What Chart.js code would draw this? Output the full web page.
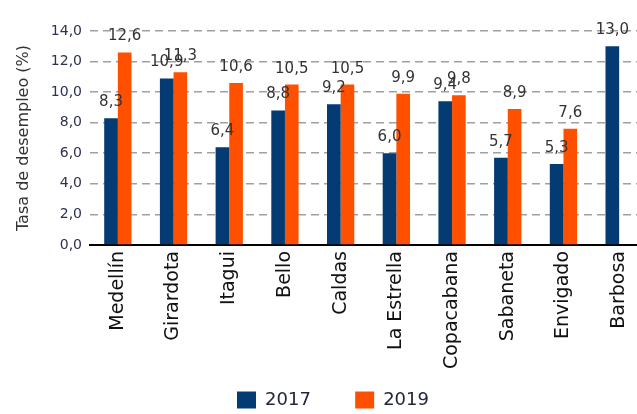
<!DOCTYPE html>
<html>
<head>
<meta charset="utf-8">
<script src="https://cdn.jsdelivr.net/npm/chart.js@4.4.0/dist/chart.umd.min.js"></script>
<style>
  html, body { margin: 0; padding: 0; background: #ffffff; overflow: hidden; }
  #wrap { width: 660px; height: 420px; }
</style>
</head>
<body>
<div id="wrap"><canvas id="c" width="660" height="420"></canvas></div>
<script>
const categories = ["Medellín", "Girardota", "Itagui", "Bello", "Caldas", "La Estrella", "Copacabana", "Sabaneta", "Envigado", "Barbosa"];
const values2017 = [8.3, 10.9, 6.4, 8.8, 9.2, 6.0, 9.4, 5.7, 5.3, 13.0];
const values2019 = [12.6, 11.3, 10.6, 10.5, 10.5, 9.9, 9.8, 8.9, 7.6, null];
const seriesNames = ["2017", "2019"];
const yTicks = [0, 2, 4, 6, 8, 10, 12, 14];
const yTitle = "Tasa de desempleo (%)";

const fmt = v => v.toFixed(1).replace('.', ',');

const valueLabels = {
  id: 'valueLabels',
  afterDatasetsDraw(chart) {
    const ctx = chart.ctx;
    ctx.save();
    ctx.font = '15px "DejaVu Sans"';
    ctx.fillStyle = '#333333';
    ctx.textAlign = 'center';
    ctx.textBaseline = 'alphabetic';
    chart.data.datasets.forEach((ds, di) => {
      const meta = chart.getDatasetMeta(di);
      meta.data.forEach((bar, i) => {
        const v = ds.data[i];
        if (v === null || v === undefined) return;
        ctx.fillText(fmt(v), bar.x, bar.y - 12);
      });
    });
    ctx.restore();
  }
};

// spacing between legend entries (non-breaking spaces after the first entry)
const legendGap = '\u00A0\u00A0\u00A0\u00A0\u00A0\u00A0';

new Chart(document.getElementById('c'), {
  type: 'bar',
  data: {
    labels: categories,
    datasets: [
      { label: seriesNames[0], data: values2017, backgroundColor: '#033b72', borderWidth: 0,
        categoryPercentage: 0.49, barPercentage: 1.0 },
      { label: seriesNames[1], data: values2019, backgroundColor: '#ff5000', borderWidth: 0,
        categoryPercentage: 0.49, barPercentage: 1.0 }
    ]
  },
  options: {
    responsive: false,
    animation: false,
    devicePixelRatio: 1,
    layout: { padding: { left: 19, right: 13, top: 31, bottom: 1 } },
    plugins: {
      legend: {
        position: 'bottom',
        labels: {
          boxWidth: 19, boxHeight: 17, padding: 10,
          color: '#22263a',
          font: { family: '"DejaVu Sans"', size: 18 },
          generateLabels(chart) {
            const items = Chart.defaults.plugins.legend.labels.generateLabels(chart);
            items.forEach((it, i) => { if (i < items.length - 1) it.text = it.text + legendGap; });
            return items;
          }
        }
      },
      tooltip: { enabled: false }
    },
    scales: {
      x: {
        grid: { display: false, drawTicks: false },
        border: { display: true, color: '#000000', width: 2 },
        ticks: {
          autoSkip: false, minRotation: 90, maxRotation: 90, padding: 6,
          color: '#111111',
          font: { family: '"DejaVu Sans"', size: 19 }
        },
        afterFit(scale) { scale.height = 136; }
      },
      y: {
        min: 0, max: 14,
        afterBuildTicks(scale) { scale.ticks = yTicks.map(v => ({ value: v })); },
        grid: { color: '#a0a0a0', lineWidth: 1.6, drawTicks: false },
        border: { display: false, dash: [8, 5] },
        ticks: {
          padding: 8,
          color: '#2b3152',
          font: { family: '"DejaVu Sans"', size: 14 },
          callback: v => fmt(v)
        },
        title: {
          display: true, text: yTitle, color: '#333333',
          font: { family: '"DejaVu Sans"', size: 16 },
          padding: { top: -5, bottom: 0 }
        },
        afterFit(scale) { scale.width = 71; }
      }
    }
  },
  plugins: [valueLabels]
});
</script>
</body>
</html>
